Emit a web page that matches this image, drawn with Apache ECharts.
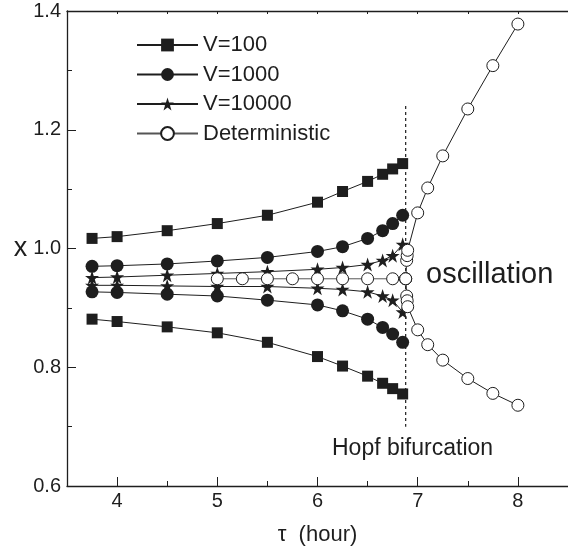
<!DOCTYPE html>
<html>
<head>
<meta charset="utf-8">
<script src="https://cdn.jsdelivr.net/npm/echarts@6/dist/echarts.min.js"></script>
<style>html,body{margin:0;padding:0;background:#fff;}#c{width:568px;height:551px;}</style>
</head>
<body>
<div id="c"></div>
<script>
// ---- data ----
const tauV = [3.75, 4, 4.5, 5, 5.5, 6, 6.25, 6.5, 6.65, 6.75, 6.85];
const v100Upper = [1.017, 1.020, 1.030, 1.042, 1.056, 1.078, 1.096, 1.113, 1.125, 1.134, 1.143];
const v100Lower = [0.881, 0.877, 0.868, 0.858, 0.842, 0.818, 0.802, 0.785, 0.773, 0.764, 0.755];
const v1000Upper = [0.970, 0.971, 0.974, 0.979, 0.985, 0.995, 1.003, 1.017, 1.030, 1.042, 1.056];
const v1000Lower = [0.927, 0.926, 0.923, 0.920, 0.913, 0.905, 0.895, 0.881, 0.867, 0.856, 0.842];
const v10000Upper = [0.951, 0.952, 0.955, 0.958, 0.961, 0.965, 0.968, 0.973, 0.980, 0.988, 1.007];
const v10000Lower = [0.938, 0.938, 0.937, 0.936, 0.936, 0.933, 0.931, 0.927, 0.920, 0.913, 0.893];

const tauDet = [5, 5.25, 5.5, 5.75, 6, 6.25, 6.5, 6.75, 6.88];
const detStable = [0.949, 0.949, 0.949, 0.949, 0.949, 0.949, 0.949, 0.949, 0.949];
const tauBranch = [6.88, 6.89, 6.895, 6.9, 7, 7.1, 7.25, 7.5, 7.75, 8];
const detUpper = [0.949, 0.980, 0.988, 0.997, 1.060, 1.102, 1.156, 1.235, 1.308, 1.378];
const detLower = [0.949, 0.920, 0.912, 0.902, 0.863, 0.838, 0.812, 0.781, 0.756, 0.736];

const hopfTau = [6.88, 6.88];
const hopfX = [1.24, 0.70];

const xMajorTicks = [4, 5, 6, 7, 8];
const xMinorTicks = [3.5, 4.5, 5.5, 6.5, 7.5, 8.5];
const xTopTicks = [4, 4.5, 5, 5.5, 6, 6.5, 7, 7.5, 8];
const yMajorTicks = [0.6, 0.8, 1.0, 1.2, 1.4];
const yMinorTicks = [0.7, 0.9, 1.1, 1.3];

const seriesNames = ['V=100', 'V=1000', 'V=10000', 'Deterministic'];

// ---- chart ----
const zip = (xs, ys) => xs.map((x, i) => [x, ys[i]]);
const FONT = 'Liberation Sans, Arial, Helvetica, sans-serif';
const INK = '#1e1e1e';
const STAR = 'path://M50,0 L61.8,35.3 L98.9,35.3 L69,57.3 L80.3,92.7 L50,70.9 L19.7,92.7 L31,57.3 L1.1,35.3 L38.2,35.3 Z';

function lineSeries(name, data, symbol, size, fill, lineColor) {
  return {
    name: name, type: 'line', data: data,
    symbol: symbol, symbolSize: size, showSymbol: true,
    lineStyle: { color: lineColor || INK, width: 1 },
    itemStyle: { color: fill, borderColor: INK, borderWidth: fill === '#fff' ? 1 : 0 },
    emphasis: { disabled: true },
    animation: false, z: 3
  };
}

const chart = echarts.init(document.getElementById('c'), null, { renderer: 'canvas' });

const axisCommon = {
  type: 'value', gridIndex: 0,
  splitLine: { show: false },
  axisLine: { show: true, onZero: false, lineStyle: { color: INK, width: 1.3 } }
};

chart.setOption({
  backgroundColor: '#fff',
  animation: false,
  textStyle: { fontFamily: FONT },
  grid: { left: 67, top: 11, width: 504, height: 480, containLabel: false },
  legend: {
    data: seriesNames, orient: 'vertical', left: 131, top: 29,
    itemWidth: 61, itemHeight: 16, itemGap: 7.5,
    textStyle: { fontSize: 22, color: INK, fontFamily: FONT },
    selectedMode: false
  },
  xAxis: [
    Object.assign({}, axisCommon, {
      min: 3.5, max: 8.5, position: 'bottom',
      name: 'τ  (hour)', nameLocation: 'middle', nameGap: 38,
      nameTextStyle: { fontSize: 22, color: INK, fontFamily: FONT },
      axisTick: { show: true, inside: true, length: 9, customValues: xMajorTicks, lineStyle: { color: INK } },
      axisLabel: { show: true, customValues: xMajorTicks, fontSize: 20, color: INK, margin: 5, fontFamily: FONT }
    }),
    Object.assign({}, axisCommon, {
      min: 3.5, max: 8.5, position: 'bottom',
      axisLine: { show: false },
      axisTick: { show: true, inside: true, length: 5, customValues: xMinorTicks, lineStyle: { color: INK } },
      axisLabel: { show: false }
    }),
    Object.assign({}, axisCommon, {
      min: 3.5, max: 8.5, position: 'top',
      axisTick: { show: true, inside: true, length: 3, customValues: xTopTicks, lineStyle: { color: INK } },
      axisLabel: { show: false }
    })
  ],
  yAxis: [
    Object.assign({}, axisCommon, {
      min: 0.6, max: 1.4, position: 'left',
      name: 'x', nameLocation: 'middle', nameGap: 27, nameRotate: 0,
      nameTextStyle: { fontSize: 27, color: INK, fontFamily: FONT },
      axisTick: { show: true, inside: true, length: 9, customValues: yMajorTicks, lineStyle: { color: INK } },
      axisLabel: { show: true, customValues: yMajorTicks, fontSize: 20, color: INK, margin: 6, fontFamily: FONT,
        formatter: v => Number(v).toFixed(1) }
    }),
    Object.assign({}, axisCommon, {
      min: 0.6, max: 1.4, position: 'left',
      axisLine: { show: false },
      axisTick: { show: true, inside: true, length: 5, customValues: yMinorTicks, lineStyle: { color: INK } },
      axisLabel: { show: false }
    })
  ],
  series: [
    {
      name: 'hopf', type: 'line', data: zip(hopfTau, hopfX), symbol: 'none',
      lineStyle: { color: INK, width: 1.2, type: [3, 3] }, silent: true, z: 1, animation: false
    },
    lineSeries('V=100', zip(tauV, v100Upper), 'rect', 11, INK),
    lineSeries('V=100', zip(tauV, v100Lower), 'rect', 11, INK),
    lineSeries('V=1000', zip(tauV, v1000Upper), 'circle', 13, INK),
    lineSeries('V=1000', zip(tauV, v1000Lower), 'circle', 13, INK),
    lineSeries('V=10000', zip(tauV, v10000Upper), STAR, 14, INK),
    lineSeries('V=10000', zip(tauV, v10000Lower), STAR, 14, INK),
    lineSeries('Deterministic', zip(tauDet, detStable), 'circle', 12, '#fff', '#555'),
    lineSeries('Deterministic', zip(tauBranch, detUpper), 'circle', 12, '#fff'),
    lineSeries('Deterministic', zip(tauBranch, detLower), 'circle', 12, '#fff')
  ],
  graphic: [
    { type: 'text', left: 426, top: 260, style: { text: 'oscillation', fontSize: 29, fill: INK, fontFamily: FONT } },
    { type: 'text', left: 332, top: 437, style: { text: 'Hopf bifurcation', fontSize: 23, fill: INK, fontFamily: FONT } }
  ]
});
</script>
</body>
</html>
